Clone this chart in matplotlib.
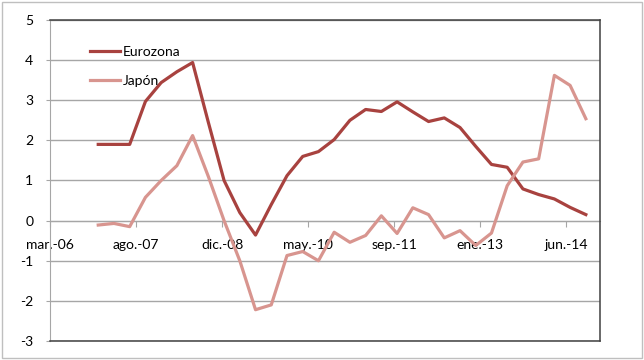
import matplotlib
matplotlib.use("Agg")
import matplotlib.pyplot as plt
from matplotlib.patches import Rectangle
import numpy as np

# trimestres dic-06 .. sep-14
quarters = ["dic-06", "mar-07", "jun-07", "sep-07", "dic-07", "mar-08", "jun-08", "sep-08",
            "dic-08", "mar-09", "jun-09", "sep-09", "dic-09", "mar-10", "jun-10", "sep-10",
            "dic-10", "mar-11", "jun-11", "sep-11", "dic-11", "mar-12", "jun-12", "sep-12",
            "dic-12", "mar-13", "jun-13", "sep-13", "dic-13", "mar-14", "jun-14", "sep-14"]

eurozona = [1.90, 1.90, 1.90, 2.97, 3.44, 3.71, 3.94, 2.45,
            1.00, 0.20, -0.36, 0.40, 1.12, 1.60, 1.72, 2.02,
            2.50, 2.77, 2.72, 2.96, 2.71, 2.47, 2.56, 2.32,
            1.85, 1.40, 1.33, 0.79, 0.65, 0.54, 0.33, 0.15]

japon = [-0.11, -0.07, -0.15, 0.58, 1.00, 1.37, 2.12, 1.10,
         0.00, -1.00, -2.22, -2.10, -0.87, -0.77, -1.00, -0.29,
         -0.54, -0.37, 0.12, -0.32, 0.32, 0.15, -0.43, -0.25,
         -0.62, -0.31, 0.87, 1.46, 1.54, 3.62, 3.37, 2.54]

tick_labels = ["mar.-06", "ago.-07", "dic.-08", "may.-10", "sep.-11", "ene.-13", "jun.-14"]

# x en meses desde mar-06
months = 9 + 3 * np.arange(len(quarters))
tick_pos = -0.2 + 16.41 * np.arange(len(tick_labels))

c_euro = "#A8423F"
c_jap = "#D8958F"
grid_c = "#A6A6A6"
box_c = "#404040"

plt.rcParams["font.family"] = ["Lato", "DejaVu Sans"]
plt.rcParams["axes.unicode_minus"] = False

fig = plt.figure(figsize=(6.44, 3.6), dpi=100)
ax = fig.add_axes([50 / 644, 19 / 360, 550 / 644, 321 / 360])

ax.plot(months, eurozona, color=c_euro, lw=2.3, label="Eurozona", zorder=3)
ax.plot(months, japon, color=c_jap, lw=2.3, label="Japón", zorder=3)

ax.set_ylim(-3, 5)
ax.set_xlim(-0.2, 104.7)
ax.set_yticks(range(-3, 6))
ax.yaxis.grid(True, color=grid_c, lw=1)
ax.set_axisbelow(True)
ax.tick_params(axis="y", direction="out", length=3, color=grid_c, pad=9, labelsize=10)
ax.set_xticks([])

for s in ["top", "right", "bottom"]:
    ax.spines[s].set_color(box_c)
    ax.spines[s].set_linewidth(1.1)
ax.spines["left"].set_color(grid_c)

# eje de categorias en y=0
ax2 = ax.secondary_xaxis(3 / 8)
ax2.set_xticks(tick_pos, labels=tick_labels)
ax2.spines["bottom"].set_color(grid_c)
ax2.tick_params(direction="out", length=4, color=grid_c, pad=9, labelsize=10)

ax.legend(loc="upper left", bbox_to_anchor=(90 / 644, 1 - 46 / 360),
          bbox_transform=fig.transFigure, frameon=False, fontsize=10,
          handlelength=2.15, handletextpad=0.2, labelspacing=1.25, borderpad=0,
          borderaxespad=0)

fig.patches.append(Rectangle((1.5 / 644, 2.5 / 360), 640.5 / 644, 356 / 360,
                             transform=fig.transFigure, fill=False, ec="#BFBFBF", lw=1))

fig.savefig("out.png", dpi=100)
